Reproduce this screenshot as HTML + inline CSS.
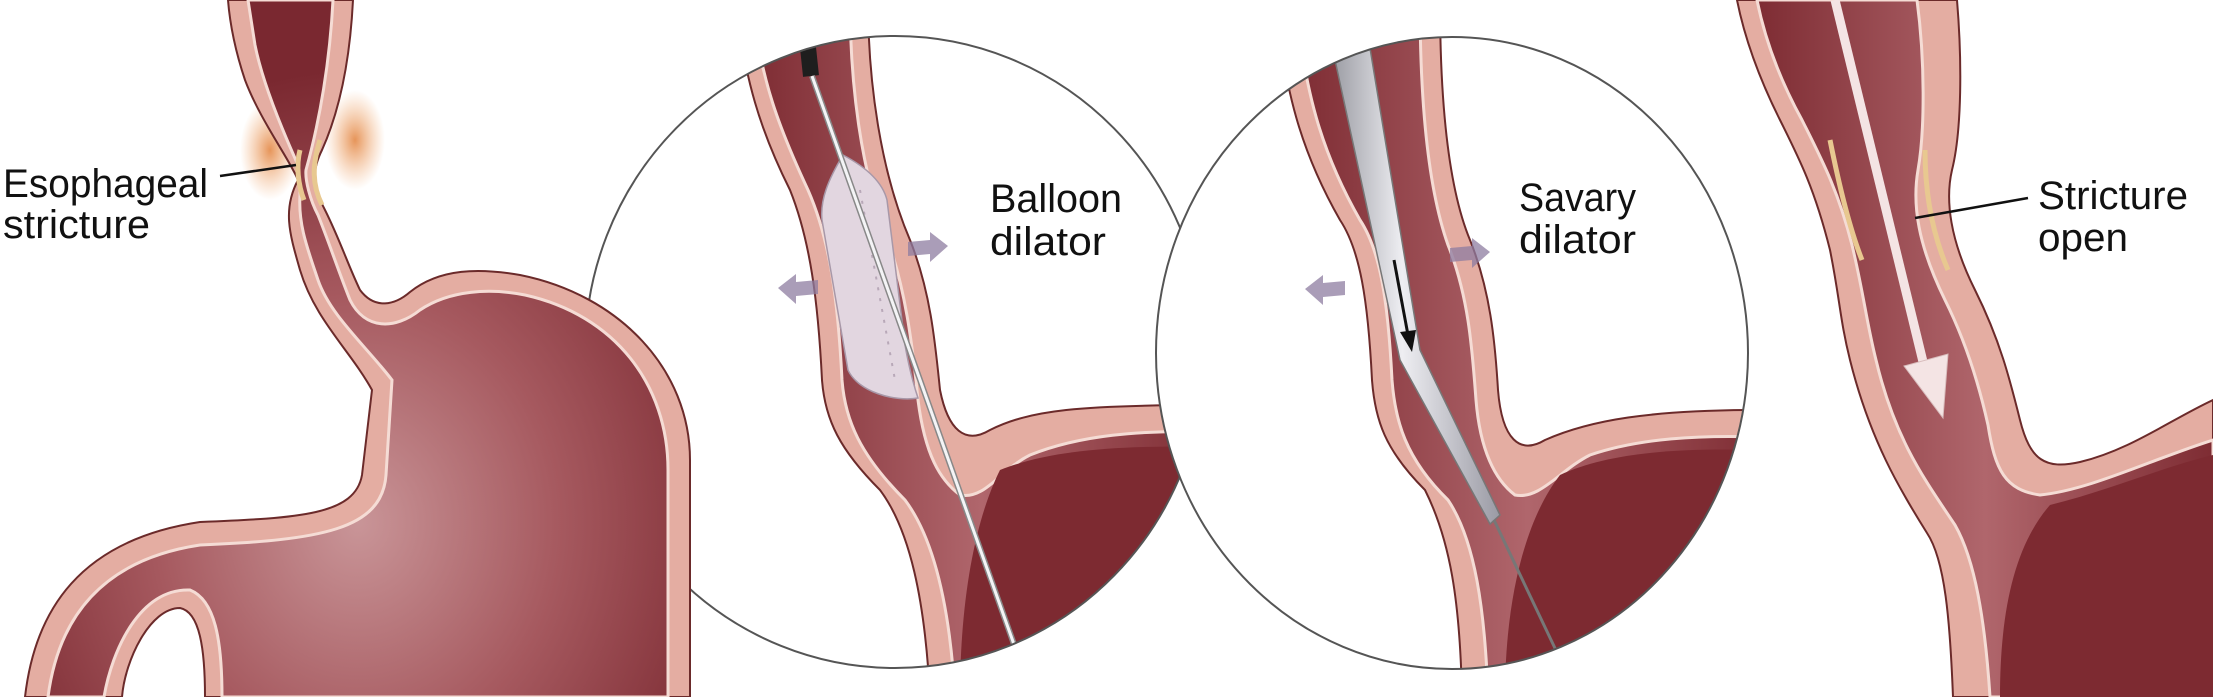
<!DOCTYPE html>
<html><head><meta charset="utf-8"><style>
html,body{margin:0;padding:0;background:#fff;}
svg{display:block;}
text{font-family:"Liberation Sans",sans-serif;font-size:40px;fill:#111;}
</style></head><body>
<svg width="2213" height="697" viewBox="0 0 2213 697" xmlns="http://www.w3.org/2000/svg">
<defs>
<radialGradient id="stom" cx="0.5" cy="0.75" r="0.65">
<stop offset="0" stop-color="#c99598"/><stop offset="0.5" stop-color="#a6595f"/><stop offset="1" stop-color="#7a2830"/>
</radialGradient>
<linearGradient id="eso" x1="0" y1="0" x2="1" y2="0">
<stop offset="0" stop-color="#7e2c33"/><stop offset="0.5" stop-color="#b0666c"/><stop offset="1" stop-color="#7e2c33"/>
</linearGradient>
<linearGradient id="silver" x1="0" y1="0" x2="1" y2="0">
<stop offset="0" stop-color="#8f9098"/><stop offset="0.45" stop-color="#eeeef2"/><stop offset="1" stop-color="#9a9aa4"/>
</linearGradient>
<radialGradient id="glow" cx="0.5" cy="0.5" r="0.5">
<stop offset="0" stop-color="#e07a30" stop-opacity="0.8"/><stop offset="1" stop-color="#f0a060" stop-opacity="0"/>
</radialGradient>
<clipPath id="c1"><ellipse cx="895" cy="352" rx="310" ry="316"/></clipPath>
<clipPath id="c2"><ellipse cx="1452" cy="353" rx="296" ry="316"/></clipPath>
</defs>

<!-- circle 1 -->
<ellipse cx="895" cy="352" rx="310" ry="316" fill="#fff"/>
<g clip-path="url(#c1)">
<path d="M735,0 L868,0 C868,80 880,170 910,240 C930,290 935,340 940,390 C948,430 965,445 990,430 C1030,410 1080,405 1210,405 L1210,697 L930,697 C925,600 910,530 880,490 C840,450 825,420 822,380 C818,300 810,240 790,190 C760,130 745,80 735,0 Z" fill="#e4ada2" stroke="#6b2a2a" stroke-width="2"/>
<path d="M752,0 L850,0 C850,80 860,170 888,240 C905,290 912,340 918,400 C925,455 940,480 960,495 C985,500 1000,470 1030,455 C1080,435 1140,430 1210,432 L1210,697 L955,697 C950,610 935,540 905,500 C860,455 845,420 842,380 C838,300 830,240 808,190 C780,130 760,80 752,0 Z" fill="url(#eso)" stroke="#f5dcd5" stroke-width="3"/>
<path d="M1000,470 C1050,450 1120,445 1210,447 L1210,697 L960,697 C960,600 975,520 1000,470 Z" fill="#7d2a31"/>
<path d="M843,155 C828,180 820,200 822,220 L848,370 C858,392 895,402 918,398 C912,380 908,362 905,345 L887,200 C882,180 862,165 843,155 Z" fill="#e2d6e0" stroke="#a898a8" stroke-width="1.5"/>
<line x1="860" y1="190" x2="895" y2="380" stroke="#b8a8b8" stroke-width="2" stroke-dasharray="3 8"/>
<line x1="803" y1="0" x2="811" y2="76" stroke="#1e1e1e" stroke-width="16"/>
<line x1="812" y1="76" x2="1016" y2="650" stroke="#888" stroke-width="6"/>
<line x1="812" y1="76" x2="1016" y2="650" stroke="#f4f4f6" stroke-width="3"/>
<circle cx="1016" cy="652" r="4" fill="#eee" stroke="#888"/>
<path d="M778,288 L796,274 L796,282 L818,280 L818,294 L796,296 L796,304 Z" fill="#8e7ca0" opacity="0.75"/>
<path d="M948,246 L930,232 L930,240 L908,242 L908,256 L930,254 L930,262 Z" fill="#8e7ca0" opacity="0.75"/>
</g>
<ellipse cx="895" cy="352" rx="310" ry="316" fill="none" stroke="#555" stroke-width="2"/>

<!-- circle 2 -->
<ellipse cx="1452" cy="353" rx="296" ry="316" fill="#fff"/>
<g clip-path="url(#c2)">
<path d="M1275,0 L1440,0 C1440,80 1445,180 1470,240 C1490,290 1495,340 1498,390 C1502,440 1520,455 1545,440 C1590,420 1650,410 1760,410 L1760,697 L1462,697 C1460,600 1450,540 1425,490 C1385,450 1375,420 1372,380 C1368,300 1360,250 1340,220 C1300,150 1285,90 1275,0 Z" fill="#e4ada2" stroke="#6b2a2a" stroke-width="2"/>
<path d="M1295,0 L1420,0 C1420,80 1425,180 1448,245 C1468,295 1472,345 1476,400 C1480,450 1495,480 1515,495 C1540,500 1560,470 1590,455 C1640,438 1700,435 1760,437 L1760,697 L1488,697 C1485,610 1475,540 1448,500 C1405,458 1395,420 1392,380 C1388,300 1380,250 1360,220 C1320,150 1305,90 1295,0 Z" fill="url(#eso)" stroke="#f5dcd5" stroke-width="3"/>
<path d="M1560,475 C1610,452 1680,448 1760,450 L1760,697 L1505,697 C1505,600 1525,520 1560,475 Z" fill="#7d2a31"/>
<path d="M1322,0 L1362,0 L1420,350 L1500,515 L1490,524 L1400,360 Z" fill="url(#silver)" stroke="#777" stroke-width="1.5"/>
<line x1="1494" y1="520" x2="1572" y2="684" stroke="#777" stroke-width="3"/>
<line x1="1394" y1="260" x2="1408" y2="335" stroke="#111" stroke-width="3"/>
<path d="M1400,332 L1416,330 L1412,352 Z" fill="#111"/>
<path d="M1305,289 L1323,275 L1323,283 L1345,281 L1345,295 L1323,297 L1323,305 Z" fill="#8e7ca0" opacity="0.75"/>
<path d="M1490,252 L1472,238 L1472,246 L1450,248 L1450,262 L1472,260 L1472,268 Z" fill="#8e7ca0" opacity="0.75"/>
</g>
<ellipse cx="1452" cy="353" rx="296" ry="316" fill="none" stroke="#555" stroke-width="2"/>

<!-- panel 1 -->
<ellipse cx="270" cy="150" rx="30" ry="50" fill="url(#glow)"/>
<ellipse cx="355" cy="140" rx="30" ry="50" fill="url(#glow)"/>
<path d="M228,0 L353,0 C350,60 340,110 322,150 C312,170 312,185 325,210 C340,240 348,265 360,290 C375,310 395,305 410,292 C440,268 480,268 520,275 C620,295 690,370 690,460 L690,697 L205,697 C205,650 200,612 180,608 C150,608 125,660 122,697 L25,697 C35,610 80,540 200,522 C300,518 355,515 362,475 L372,390 C350,350 315,320 300,270 C290,235 282,210 298,180 C290,160 260,120 245,80 C235,50 230,25 228,0 Z" fill="#e4ada2" stroke="#6b2a2a" stroke-width="2"/>
<path d="M248,0 L333,0 C330,60 320,120 306,170 C305,180 310,200 318,215 C330,245 338,270 350,300 C365,330 395,330 420,310 C450,290 490,288 525,295 C615,315 668,385 668,470 L668,697 L222,697 C222,640 215,600 190,590 C140,588 112,650 104,697 L48,697 C58,620 100,560 200,545 C320,540 382,530 386,475 L392,380 C365,345 330,315 318,280 C308,250 298,225 300,195 C300,180 298,170 298,165 C280,125 262,80 255,45 Z" fill="url(#stom)" stroke="#f5dcd5" stroke-width="3"/>
<path d="M300,150 C296,165 298,185 304,200" fill="none" stroke="#e8c890" stroke-width="5"/>
<path d="M320,140 C312,165 312,185 322,205" fill="none" stroke="#e8c890" stroke-width="5"/>

<!-- panel 4 -->
<path d="M1737,0 L1957,0 C1962,60 1962,130 1952,170 C1945,200 1950,240 1975,290 C2000,340 2010,380 2020,420 C2030,460 2045,470 2080,462 C2130,450 2170,420 2213,400 L2213,697 L1953,697 C1950,620 1945,560 1927,533 C1900,490 1870,440 1850,360 C1840,320 1840,300 1830,250 C1815,190 1800,160 1780,120 C1760,80 1745,40 1737,0 Z" fill="#e4ada2" stroke="#6b2a2a" stroke-width="2"/>
<path d="M1757,0 L1917,0 C1925,60 1925,130 1918,170 C1912,205 1918,245 1945,300 C1965,340 1978,380 1988,425 C1995,470 2005,490 2040,495 C2090,490 2150,460 2213,440 L2213,697 L1990,697 C1985,620 1975,560 1955,525 C1925,480 1895,440 1876,360 C1866,320 1864,295 1852,245 C1838,190 1822,160 1802,120 C1780,80 1765,40 1757,0 Z" fill="url(#eso)" stroke="#f5dcd5" stroke-width="3"/>
<path d="M2050,505 C2110,490 2160,468 2213,455 L2213,697 L2000,697 C2000,610 2015,545 2050,505 Z" fill="#7d2a31"/>
<path d="M1830,140 C1840,190 1850,230 1862,260" fill="none" stroke="#e8c890" stroke-width="5"/>
<path d="M1925,150 C1925,200 1935,240 1948,270" fill="none" stroke="#e8c890" stroke-width="5"/>
<line x1="1835" y1="0" x2="1925" y2="370" stroke="#f4e4e4" stroke-width="9"/>
<path d="M1904,366 L1948,354 L1943,418 Z" fill="#f4e4e4" stroke="#d8bcbc" stroke-width="1"/>

<!-- labels -->
<line x1="220" y1="176" x2="296" y2="165" stroke="#111" stroke-width="2.5"/>
<text x="3" y="197" textLength="205" lengthAdjust="spacingAndGlyphs">Esophageal</text>
<text x="3" y="238" textLength="147" lengthAdjust="spacingAndGlyphs">stricture</text>
<text x="990" y="212" textLength="132" lengthAdjust="spacingAndGlyphs">Balloon</text>
<text x="990" y="255" textLength="116" lengthAdjust="spacingAndGlyphs">dilator</text>
<text x="1519" y="211" textLength="117" lengthAdjust="spacingAndGlyphs">Savary</text>
<text x="1519" y="253" textLength="117" lengthAdjust="spacingAndGlyphs">dilator</text>
<line x1="1915" y1="218" x2="2028" y2="198" stroke="#111" stroke-width="2.5"/>
<text x="2038" y="209" textLength="150" lengthAdjust="spacingAndGlyphs">Stricture</text>
<text x="2038" y="251" textLength="90" lengthAdjust="spacingAndGlyphs">open</text>
</svg>
</body></html>
